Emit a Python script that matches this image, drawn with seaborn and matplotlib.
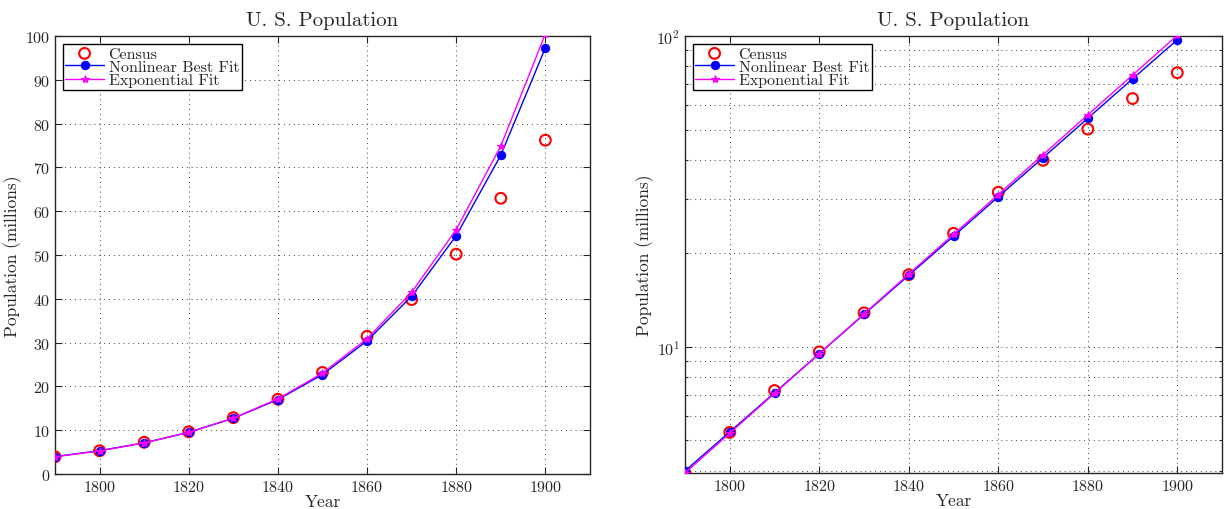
import numpy as np
import pandas as pd
import matplotlib
matplotlib.use('Agg')
import matplotlib.pyplot as plt
import seaborn as sns
from matplotlib.ticker import LogLocator, NullFormatter

years = [1790, 1800, 1810, 1820, 1830, 1840, 1850, 1860, 1870, 1880, 1890, 1900]
census = [3.93, 5.31, 7.24, 9.64, 12.87, 17.07, 23.19, 31.44, 39.82, 50.19, 62.95, 76.21]
nonlinear_fit = [3.99, 5.33, 7.12, 9.52, 12.72, 17.0, 22.7, 30.4, 40.6, 54.4, 72.8, 97.3]
exponential_fit = [3.93, 5.28, 7.09, 9.51, 12.77, 17.15, 23.03, 30.9, 41.5, 55.8, 74.9, 100.5]

df = pd.DataFrame({'Year': years, 'Census': census,
                   'Nonlinear': nonlinear_fit, 'Exponential': exponential_fit})

sns.set_style('ticks')
plt.rcParams['font.family'] = 'cmr10'
plt.rcParams['mathtext.fontset'] = 'cm'
plt.rcParams['axes.formatter.use_mathtext'] = True
plt.rcParams['axes.unicode_minus'] = False

fig = plt.figure(figsize=(12.25, 5.1), dpi=100)
ax1 = fig.add_axes([0.0449, 0.0686, 0.4367, 0.8588])
ax2 = fig.add_axes([0.5592, 0.0706, 0.4384, 0.8568])

grid_style = dict(linestyle=(0, (1, 4)), color='0.25', linewidth=0.7)


def draw(ax):
    sns.scatterplot(data=df, x='Year', y='Census', ax=ax, marker='o', s=60,
                    facecolor='none', edgecolor='red', linewidth=1.5,
                    label='Census', zorder=3)
    sns.lineplot(data=df, x='Year', y='Nonlinear', ax=ax, color='blue',
                 marker='o', markersize=6, markeredgecolor='blue',
                 linewidth=1.0, label='Nonlinear Best Fit', zorder=4)
    sns.lineplot(data=df, x='Year', y='Exponential', ax=ax, color='magenta',
                 marker='*', markersize=6, markeredgecolor='magenta',
                 linewidth=1.0, label='Exponential Fit', zorder=5)
    ax.set_xlim(1790, 1910)
    ax.set_xticks([1800, 1820, 1840, 1860, 1880, 1900])
    ax.set_title('U. S. Population', fontsize=15, pad=8)
    ax.set_xlabel('Year', fontsize=12.5, labelpad=0)
    ax.set_ylabel('Population (millions)', fontsize=12.5, labelpad=2)
    ax.tick_params(which='both', direction='in', top=True, right=True,
                   labelsize=11.5, width=0.8)
    ax.tick_params(which='major', length=5)
    for s in ax.spines.values():
        s.set_linewidth(1.0)
    leg = ax.legend(loc='upper left', fontsize=11.5, frameon=True, fancybox=False,
                    edgecolor='black', framealpha=1, labelspacing=-0.05,
                    borderpad=0.15, handlelength=2.4, handletextpad=0.3,
                    borderaxespad=0.5)
    leg.get_frame().set_linewidth(1.0)


draw(ax1)
ax1.set_ylim(0, 100)
ax1.set_yticks(np.arange(0, 101, 10))
ax1.grid(True, which='major', **grid_style)

draw(ax2)
ax2.set_yscale('log')
ax2.set_ylim(3.93, 100)
ax2.yaxis.set_major_locator(LogLocator(base=10, numticks=5))
ax2.yaxis.set_minor_locator(LogLocator(base=10, subs=np.arange(2, 10), numticks=12))
ax2.yaxis.set_minor_formatter(NullFormatter())
ax2.grid(True, which='major', **grid_style)
ax2.grid(True, which='minor', axis='y', **grid_style)

plt.savefig('out.png', dpi=100)
